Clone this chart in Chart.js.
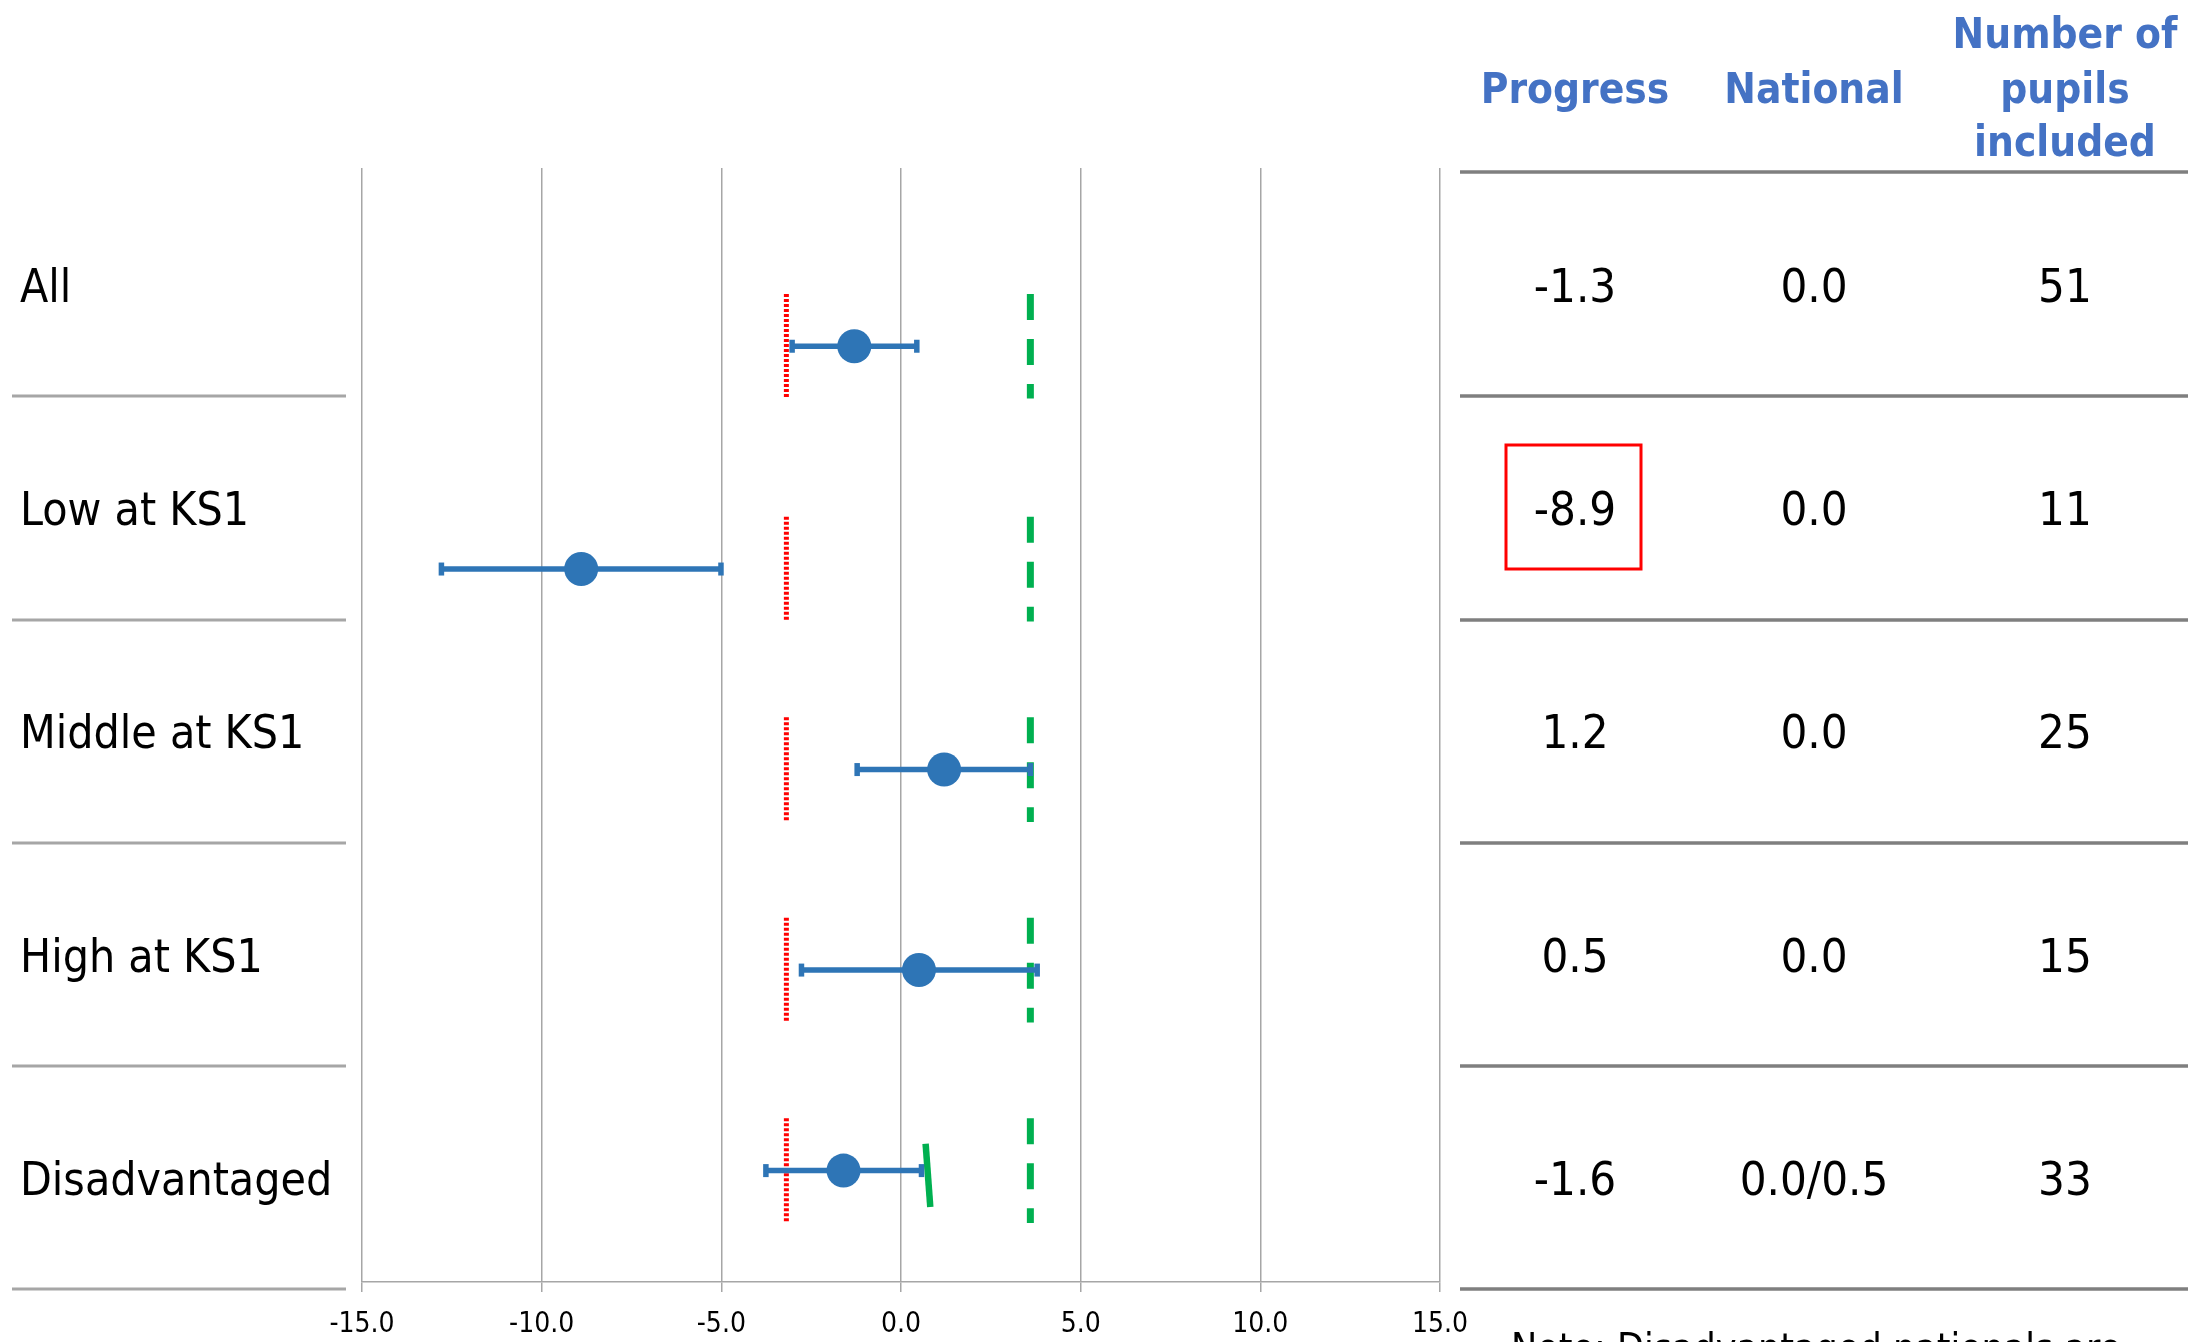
<!DOCTYPE html>
<html>
<head>
<meta charset="utf-8">
<script src="https://cdn.jsdelivr.net/npm/chart.js@4.4.1/dist/chart.umd.min.js"></script>
<style>
  html, body { margin: 0; padding: 0; background: #fff; }
  canvas { display: block; }
</style>
</head>
<body>
<canvas id="progressChart" width="2188" height="1342"></canvas>
<script>
// data
const categories   = ["All", "Low at KS1", "Middle at KS1", "High at KS1", "Disadvantaged"];
const rowY         = [4.2, 3.2, 2.3, 1.4, 0.5];
const progress     = [-1.3, -8.9, 1.2, 0.5, -1.6];
const ciLower      = [-3.03, -12.79, -1.22, -2.77, -3.76];
const ciUpper      = [0.44, -5.01, 3.6, 3.79, 0.57];
const nationalText = ["0.0", "0.0", "0.0", "0.0", "0.0/0.5"];
const pupils       = [51, 11, 25, 15, 33];
const xTicks       = [-15, -10, -5, 0, 5, 10, 15];

const redLineX     = -3.19;
const greenLineX   = 3.6;
const lineHalfSpan = 0.235;
const disadvNatX   = [0.685, 0.815];
const disadvNatY   = [0.62, 0.337];

const BLUE  = "#2e75b6";
const RED   = "#ff0000";
const GREEN = "#00b050";
const HEAD  = "#4472c4";
const FONT  = '"DejaVu Sans Condensed", "DejaVu Sans", sans-serif';

const datasets = [];

datasets.push({
  data: progress.map((v, i) => ({ x: v, y: rowY[i] })),
  showLine: false,
  pointRadius: 17,
  pointBackgroundColor: BLUE,
  pointBorderWidth: 0
});

categories.forEach((c, i) => {
  datasets.push({
    data: [{ x: ciLower[i], y: rowY[i] }, { x: ciUpper[i], y: rowY[i] }],
    showLine: true,
    borderColor: BLUE,
    borderWidth: 5.5,
    pointStyle: "line",
    pointRadius: 6.5,
    pointRotation: 90,
    pointBorderColor: BLUE,
    pointBorderWidth: 5.5
  });
});

categories.forEach((c, i) => {
  datasets.push({
    data: [{ x: greenLineX, y: rowY[i] + lineHalfSpan }, { x: greenLineX, y: rowY[i] - lineHalfSpan }],
    showLine: true,
    borderColor: GREEN,
    borderWidth: 7,
    borderDash: [26, 19],
    pointRadius: 0
  });
  datasets.push({
    data: [{ x: redLineX, y: rowY[i] + lineHalfSpan }, { x: redLineX, y: rowY[i] - lineHalfSpan }],
    showLine: true,
    borderColor: RED,
    borderWidth: 5,
    borderDash: [3, 2],
    pointRadius: 0
  });
});

datasets.push({
  data: [{ x: disadvNatX[0], y: disadvNatY[0] }, { x: disadvNatX[1], y: disadvNatY[1] }],
  showLine: true,
  borderColor: GREEN,
  borderWidth: 6.5,
  pointRadius: 0
});

// side table, labels and separators
const rowCenters = [285, 508, 731, 955, 1178];
const sepLeft    = [396, 620, 843, 1066, 1289];
const sepRight   = [172, 396, 620, 843, 1066, 1289];
const colX       = [1575, 1814, 2065];

function capText(ctx, text, x, yc, size, align) {
  ctx.textAlign = align;
  ctx.textBaseline = "alphabetic";
  ctx.fillText(text, x, yc + size * 0.729 / 2);
}

const tablePlugin = {
  id: "tableText",
  afterDraw(chart) {
    const ctx = chart.ctx;
    ctx.save();

    ctx.lineWidth = 3;
    ctx.strokeStyle = "#a6a6a6";
    sepLeft.forEach(y => {
      ctx.beginPath(); ctx.moveTo(12, y); ctx.lineTo(346, y); ctx.stroke();
    });
    ctx.lineWidth = 3.5;
    ctx.strokeStyle = "#7f7f7f";
    sepRight.forEach(y => {
      ctx.beginPath(); ctx.moveTo(1460, y); ctx.lineTo(2188, y); ctx.stroke();
    });

    ctx.fillStyle = "#000";
    ctx.font = "46px " + FONT;
    categories.forEach((c, i) => capText(ctx, c, 20, rowCenters[i], 46, "left"));

    ctx.font = "47px " + FONT;
    progress.forEach((v, i) => {
      capText(ctx, v.toFixed(1), colX[0], rowCenters[i], 47, "center");
      capText(ctx, nationalText[i], colX[1], rowCenters[i], 47, "center");
      capText(ctx, String(pupils[i]), colX[2], rowCenters[i], 47, "center");
    });

    // header
    ctx.fillStyle = HEAD;
    ctx.font = "bold 42px " + FONT;
    capText(ctx, "Progress", colX[0], 88, 42, "center");
    capText(ctx, "National", colX[1], 88, 42, "center");
    capText(ctx, "Number of", colX[2], 33, 42, "center");
    capText(ctx, "pupils", colX[2], 88, 42, "center");
    capText(ctx, "included", colX[2], 141, 42, "center");

    // highlight box around the low value
    ctx.strokeStyle = RED;
    ctx.lineWidth = 3;
    ctx.strokeRect(1506, 445, 135, 124);

    // note, cut off at the bottom edge
    ctx.fillStyle = "#000";
    ctx.font = "39px " + FONT;
    ctx.textAlign = "left";
    ctx.textBaseline = "alphabetic";
    ctx.fillText("Note: Disadvantaged nationals are", 1511, 1333 + 39 * 0.729);

    ctx.restore();
  }
};

new Chart(document.getElementById("progressChart"), {
  type: "scatter",
  data: { datasets: datasets },
  options: {
    responsive: false,
    devicePixelRatio: 1,
    animation: false,
    layout: { padding: { left: 362, right: 748, top: 168, bottom: 0 } },
    plugins: {
      legend: { display: false },
      tooltip: { enabled: false }
    },
    scales: {
      x: {
        type: "linear",
        min: xTicks[0],
        max: xTicks[xTicks.length - 1],
        afterBuildTicks: s => { s.ticks = xTicks.map(v => ({ value: v })); },
        afterFit: s => { s.height = 60; },
        ticks: {
          color: "#000",
          padding: 16,
          maxRotation: 0,
          font: { family: FONT, size: 28 },
          callback: v => Number(v).toFixed(1)
        },
        grid: { color: "#a6a6a6", lineWidth: 1.5, tickLength: 10 },
        border: { color: "#a6a6a6", width: 1.5 }
      },
      y: { type: "linear", min: 0, max: 5, display: false }
    }
  },
  plugins: [tablePlugin]
});
</script>
</body>
</html>
